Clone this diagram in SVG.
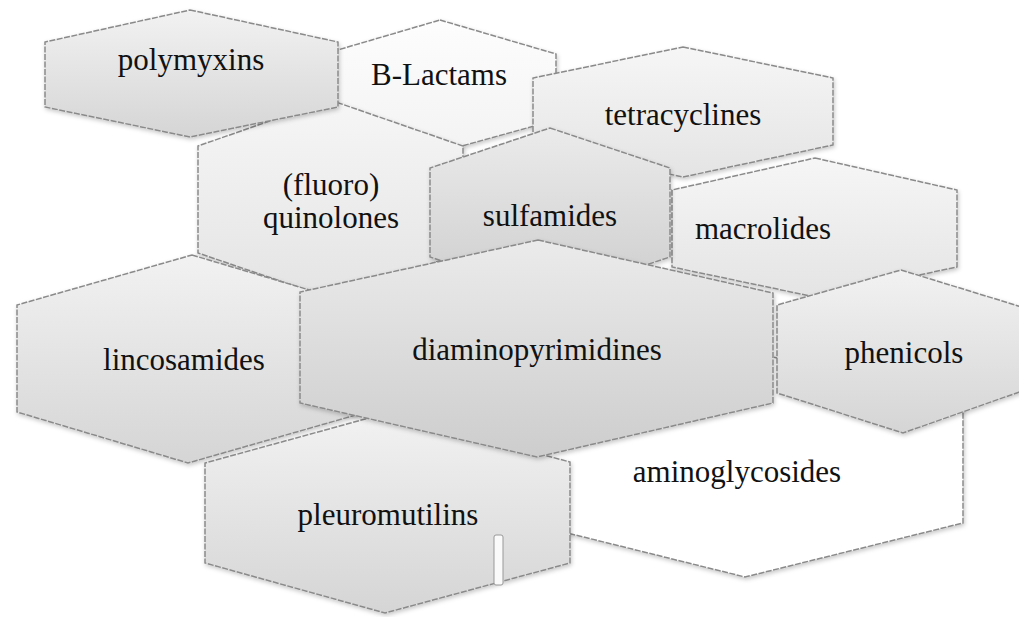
<svg xmlns="http://www.w3.org/2000/svg" width="1019" height="617" viewBox="0 0 1019 617">
<defs>
<linearGradient id="gGray" x1="0" y1="0" x2="0" y2="1"><stop offset="0" stop-color="#f2f2f2"/><stop offset="1" stop-color="#d5d5d5"/></linearGradient>
<linearGradient id="gDark" x1="0" y1="0" x2="0" y2="1"><stop offset="0" stop-color="#ebebeb"/><stop offset="1" stop-color="#cdcdcd"/></linearGradient>
<linearGradient id="gLight" x1="0" y1="0" x2="0" y2="1"><stop offset="0" stop-color="#f6f6f6"/><stop offset="1" stop-color="#e4e4e4"/></linearGradient>
<linearGradient id="gWhite" x1="0" y1="0" x2="0" y2="1"><stop offset="0" stop-color="#fdfdfd"/><stop offset="1" stop-color="#f3f3f3"/></linearGradient>
<filter id="sh" x="-10%" y="-10%" width="120%" height="130%"><feDropShadow dx="1" dy="2" stdDeviation="2" flood-color="#000" flood-opacity="0.22"/></filter>
</defs>
<style>
.hex{stroke:#8a8a8a;stroke-width:1.5;stroke-dasharray:6 1.5;filter:url(#sh)}
.lbl{font-family:"Liberation Serif","Times New Roman",serif;font-size:31px;fill:#111;text-anchor:middle}
</style>
<rect width="1019" height="617" fill="#fff"/>
<g id="aminoglycosides">
<polygon class="hex" fill="#ffffff" points="745,350 963,405 963,523 745,577 527,523 527,405"/>
<text class="lbl" x="737" y="482">aminoglycosides</text>
</g>
<g id="b-lactams">
<polygon class="hex" fill="url(#gWhite)" points="440,20 556,54 556,120 440,152 324,120 324,54"/>
<text class="lbl" x="439" y="85">B-Lactams</text>
</g>
<g id="quinolones">
<polygon class="hex" fill="url(#gLight)" points="330,100 463,146 463,253 330,298 198,253 198,146"/>
<text class="lbl" x="331" y="195">(fluoro)</text>
<text class="lbl" x="331" y="228">quinolones</text>
</g>
<g id="polymyxins">
<polygon class="hex" fill="url(#gGray)" points="190,10 338,42 338,107 190,137 45,107 45,42"/>
<text class="lbl" x="191" y="70">polymyxins</text>
</g>
<g id="tetracyclines">
<polygon class="hex" fill="url(#gLight)" points="683,47 833,78 833,145 683,177 533,145 533,78"/>
<text class="lbl" x="683" y="125">tetracyclines</text>
</g>
<g id="macrolides">
<polygon class="hex" fill="url(#gLight)" points="815,158 957,190 957,267 815,297 672,267 672,190"/>
<text class="lbl" x="763" y="239">macrolides</text>
</g>
<g id="sulfamides">
<polygon class="hex" fill="url(#gDark)" points="550,128 670,168 670,257 550,297 430,257 430,168"/>
<text class="lbl" x="550" y="226">sulfamides</text>
</g>
<g id="phenicols">
<polygon class="hex" fill="url(#gGray)" points="901,270 1025,308 1025,390 903,433 777,393 777,305"/>
<text class="lbl" x="904" y="363">phenicols</text>
</g>
<g id="lincosamides">
<polygon class="hex" fill="url(#gGray)" points="192,255 363,306 363,413 188,463 17,412 17,305"/>
<text class="lbl" x="184" y="370">lincosamides</text>
</g>
<g id="pleuromutilins">
<polygon class="hex" fill="url(#gGray)" points="387,413 570,462 570,563 385,613 205,563 205,463"/>
<text class="lbl" x="388" y="525">pleuromutilins</text>
<rect x="494" y="535" width="9" height="50" rx="2" fill="#fafafa" stroke="#999" stroke-width="1"/>
</g>
<g id="diaminopyrimidines">
<polygon class="hex" fill="url(#gDark)" points="538,240 773,293 773,403 537,457 300,403 300,292"/>
<text class="lbl" x="537" y="360">diaminopyrimidines</text>
</g>
</svg>
